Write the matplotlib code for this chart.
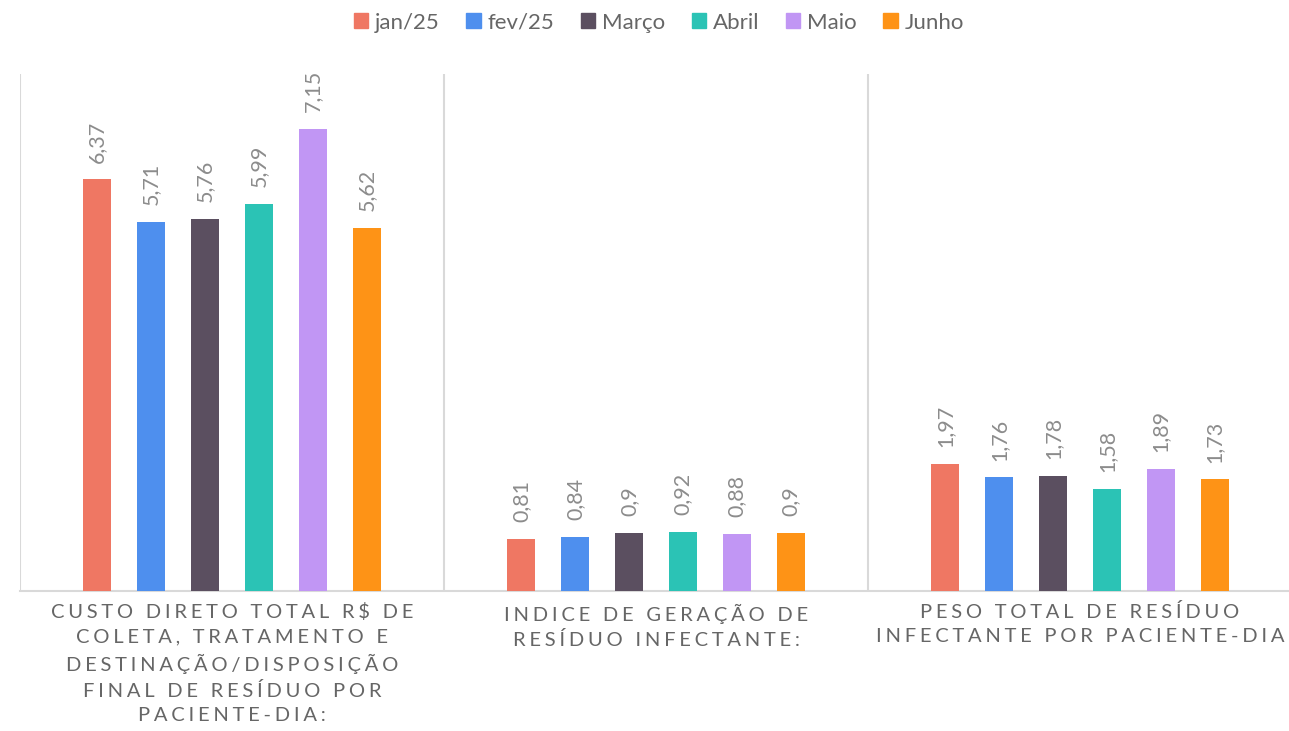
import numpy as np
import matplotlib
matplotlib.use('Agg')
import matplotlib.pyplot as plt
from matplotlib.patches import Patch

plt.rcParams['font.family'] = ['Lato', 'DejaVu Sans']

# data
categories = ['CUSTO DIRETO TOTAL R$ DE\nCOLETA, TRATAMENTO E\nDESTINAÇÃO/DISPOSIÇÃO\nFINAL DE RESÍDUO POR\nPACIENTE-DIA:',
              'INDICE DE GERAÇÃO DE\nRESÍDUO INFECTANTE:',
              'PESO TOTAL DE RESÍDUO\nINFECTANTE POR PACIENTE-DIA']
series = ['jan/25', 'fev/25', 'Março', 'Abril', 'Maio', 'Junho']
jan25 = [6.37, 0.81, 1.97]
fev25 = [5.71, 0.84, 1.76]
marco = [5.76, 0.90, 1.78]
abril = [5.99, 0.92, 1.58]
maio = [7.15, 0.88, 1.89]
junho = [5.62, 0.90, 1.73]
colors = ['#EF7763', '#4E8FEE', '#5B4F60', '#2BC3B5', '#C196F4', '#FE9316']

values = [jan25, fev25, marco, abril, maio, junho]


def spaced(s):
    # fake the letter spacing of the original labels
    return '\n'.join('\u2009\u200a'.join(line) for line in s.split('\n'))


def fmt(v):
    return f'{v:g}'.replace('.', ',')


fig = plt.figure(figsize=(12.89, 7.31), dpi=100)
ax = fig.add_axes([20/1289, 140/731, 1272/1289, 517/731])

x = np.arange(len(categories))
step = 0.127
width = 0.066
for i, (name, vals, c) in enumerate(zip(series, values, colors)):
    pos = x + (i - 2.5) * step
    ax.bar(pos, vals, width, color=c, label=name, zorder=3)
    for p, v in zip(pos, vals):
        ax.annotate(fmt(v), (p, v), xytext=(0, 12), textcoords='offset points',
                    rotation=90, ha='center', va='bottom', fontsize=15.5,
                    color='#8c8c8c')

ax.set_xlim(-0.5, 2.5)
ax.set_ylim(0, 8)
for b in [-0.5, 0.5, 1.5, 2.5]:
    ax.axvline(b, color='#d9d9d9', lw=1.5, zorder=1)
for s in ['top', 'right', 'left']:
    ax.spines[s].set_visible(False)
ax.spines['bottom'].set_color('#d9d9d9')
ax.spines['bottom'].set_linewidth(1.5)
ax.set_xticks([])
ax.set_yticks([])

for i, cat in enumerate(categories):
    ax.annotate(spaced(cat), (i, 0), xytext=(0, -9), textcoords='offset points',
                ha='center', va='top', multialignment='center', fontsize=14.5,
                color='#666666', linespacing=1.5)

handles = [Patch(color=c) for c in colors]
fig.legend(handles, series, loc='upper center', bbox_to_anchor=(0.511, 1.01),
           ncol=6, frameon=False, fontsize=16, labelcolor='#666666',
           handlelength=0.65, handleheight=0.65, handletextpad=0.3,
           columnspacing=1.2)

plt.savefig('out.png', dpi=100)
